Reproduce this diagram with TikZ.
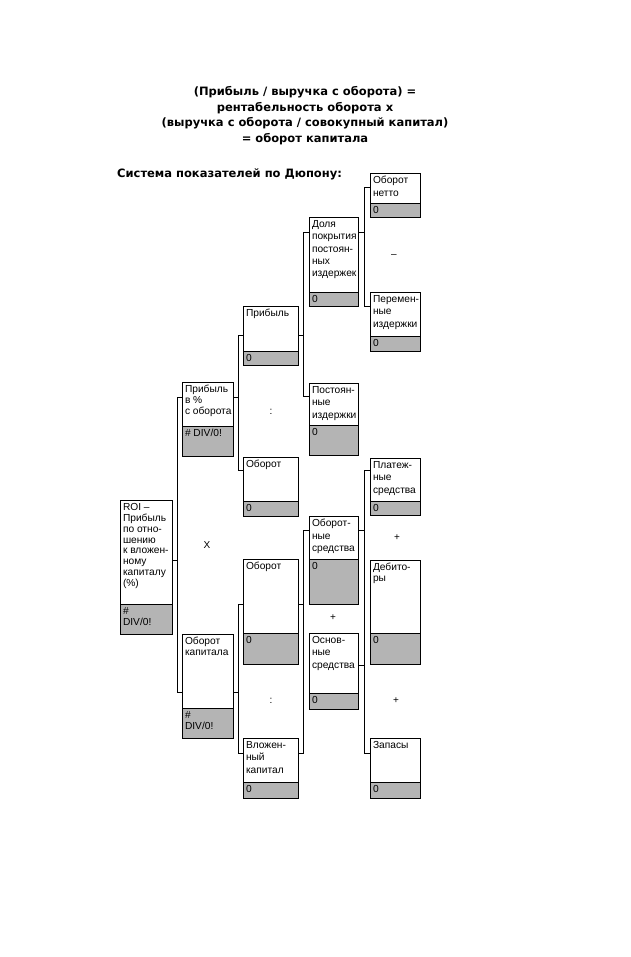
\documentclass[tikz,border=0pt]{standalone}
\usepackage{fontspec}
\setmainfont{Liberation Sans}
\newfontfamily\ttlfont{DejaVu Sans}
\usetikzlibrary{calc}
\definecolor{cellgray}{RGB}{180,180,180}
\tikzset{
  wbox/.style={draw=black, line width=0.9pt, fill=white, rectangle, inner sep=0pt, outer sep=0pt, anchor=north west},
  gbox/.style={draw=black, line width=0.9pt, fill=cellgray, rectangle, inner sep=0pt, outer sep=0pt, anchor=north west},
  txt/.style={inner sep=0pt, outer sep=0pt, anchor=north west, align=left},
  conn/.style={draw=black, line width=0.9pt},
  opsign/.style={inner sep=0pt, font=\fontsize{10pt}{11pt}\selectfont},
  ttl/.style={inner sep=0pt, font=\ttlfont\fontsize{11.5pt}{15.5pt}\selectfont\bfseries, align=center}
}
% name, x, ytop, ygray, ybot, width, spacing, text, value
\newcommand\dpbox[9]{%
  \node[wbox, minimum width=#6pt, minimum height=#4pt-#3pt] (#1) at (#2,#3) {};
  \node[gbox, minimum width=#6pt, minimum height=#5pt-#4pt] (#1v) at (#2,#4) {};
  \node[txt, font=\fontsize{10.2pt}{#7pt}\selectfont] (#1t) at ([xshift=3pt,yshift=-3.5pt]#1.north west) {#8};
  \node[txt, font=\fontsize{10.2pt}{#7pt}\selectfont] (#1n) at ([xshift=3pt,yshift=-3.5pt]#1v.north west) {#9};
}
\begin{document}
\begin{tikzpicture}[x=1pt,y=-1pt]
\useasboundingbox[fill=white] (0,0) rectangle (630,957);

\node[ttl] (title) at (305,115.5) {(Прибыль / выручка с оборота) =\\рентабельность оборота х\\(выручка с оборота / совокупный капитал)\\= оборот капитала};
\node[ttl, anchor=west] (sys) at (117,174) {Система показателей по Дюпону:};

\dpbox{roi}{120}{500}{604}{634}{52}{10.8}{ROI –\\Прибыль\\по отно-\\шению\\к вложен-\\ному\\капиталу\\(\%)}{\#\\DIV/0!}
\dpbox{b2a}{182}{382}{426}{456}{51}{10.7}{Прибыль\\в \%\\с оборота}{\# DIV/0!}
\dpbox{b2b}{182}{634}{708}{738}{51}{10.7}{Оборот\\капитала}{\#\\DIV/0!}
\dpbox{b3a}{243}{306}{351}{365}{55}{12.3}{Прибыль}{0}
\dpbox{b3b}{243}{457}{501}{516}{55}{12.3}{Оборот}{0}
\dpbox{b3c}{243}{559}{633}{664}{55}{12.3}{Оборот}{0}
\dpbox{b3d}{243}{738}{782}{798}{55}{12.3}{Вложен-\\ный\\капитал}{0}
\dpbox{b4a}{309}{217}{292}{306}{49}{12.3}{Доля\\покрытия\\постоян-\\ных\\издержек}{0}
\dpbox{b4b}{309}{383}{425}{455}{49}{12.3}{Постоян-\\ные\\издержки}{0}
\dpbox{b4c}{309}{516}{559}{604}{49}{12.3}{Оборот-\\ные\\средства}{0}
\dpbox{b4d}{309}{633}{693}{709}{49}{12.3}{Основ-\\ные\\средства}{0}
\dpbox{b5a}{370}{173}{203}{217}{50}{12.3}{Оборот\\нетто}{0}
\dpbox{b5b}{370}{292}{336}{351}{50}{12.3}{Перемен-\\ные\\издержки}{0}
\dpbox{b5c}{370}{458}{501}{515}{50}{12.3}{Платеж-\\ные\\средства}{0}
\dpbox{b5d}{370}{560}{633}{664}{50}{10.5}{Дебито-\\ры}{0}
\dpbox{b5e}{370}{738}{782}{798}{50}{12.3}{Запасы}{0}

% operators
\node[opsign] (opx) at (207,545) {X};
\node[opsign] (opc1) at (271,412) {:};
\node[opsign] (opc2) at (271,701) {:};
\node[opsign] (opm) at (394,256) {–};
\node[opsign] (opp1) at (397,538) {+};
\node[opsign] (opp2) at (333,618) {+};
\node[opsign] (opp3) at (396,701) {+};

% 1 -> 2
\coordinate (j1a) at ([yshift=-15pt]b2a.north west);
\coordinate (j1b) at ([yshift=-58pt]b2b.north west);
\coordinate (j1r) at ([yshift=-60pt]roi.north east);
\draw[conn] (j1a) -- ++(-5,0) |- (j1b);
\draw[conn] (j1r) -- ([xshift=-5pt]j1a |- j1r);

% 2a -> 3a, 3b
\coordinate (j2r) at ([yshift=-15pt]b2a.north east);
\coordinate (j2a) at ([yshift=-29pt]b3a.north west);
\coordinate (j2b) at ([yshift=-13pt]b3b.north west);
\draw[conn] (j2a) -- ++(-5,0) |- (j2b);
\draw[conn] (j2r) -- ([xshift=-5pt]j2a |- j2r);

% 2b -> 3c, 3d
\coordinate (j3r) at ([yshift=-58pt]b2b.north east);
\coordinate (j3a) at ([yshift=-45pt]b3c.north west);
\coordinate (j3b) at ([yshift=-15pt]b3d.north west);
\draw[conn] (j3a) -- ++(-5,0) |- (j3b);
\draw[conn] (j3r) -- ([xshift=-5pt]j3a |- j3r);

% 3a -> 4a, 4b
\coordinate (j4r) at ([yshift=-29pt]b3a.north east);
\coordinate (j4a) at ([yshift=-15pt]b4a.north west);
\coordinate (j4b) at ([yshift=-13pt]b4b.north west);
\draw[conn] (j4a) -- ++(-6,0) |- (j4b);
\draw[conn] (j4r) -- ([xshift=-6pt]j4a |- j4r);

% 3c, 3d -> 4c
\coordinate (j5a) at ([yshift=-14pt]b4c.north west);
\coordinate (j5r1) at ([yshift=-45pt]b3c.north east);
\coordinate (j5r2) at ([yshift=-15pt]b3d.north east);
\draw[conn] (j5a) -- ++(-6,0) |- (j5r2);
\draw[conn] (j5r1) -- ([xshift=-6pt]j5a |- j5r1);

% 4a -> 5a, 5b
\coordinate (j6r) at ([yshift=-15pt]b4a.north east);
\coordinate (j6a) at ([yshift=-14pt]b5a.north west);
\coordinate (j6b) at ([yshift=-14pt]b5b.north west);
\draw[conn] (j6a) -- ++(-6,0) |- (j6b);
\draw[conn] (j6r) -- ([xshift=-6pt]j6a |- j6r);

% 4c, 4d -> 5c, 5e
\coordinate (j7a) at ([yshift=-12pt]b5c.north west);
\coordinate (j7b) at ([yshift=-15pt]b5e.north west);
\coordinate (j7r1) at ([yshift=-14pt]b4c.north east);
\coordinate (j7r2) at ([yshift=-32pt]b4d.north east);
\draw[conn] (j7a) -- ++(-6,0) |- (j7b);
\draw[conn] (j7r1) -- ([xshift=-6pt]j7a |- j7r1);
\draw[conn] (j7r2) -- ([xshift=-6pt]j7a |- j7r2);
\end{tikzpicture}
\end{document}
